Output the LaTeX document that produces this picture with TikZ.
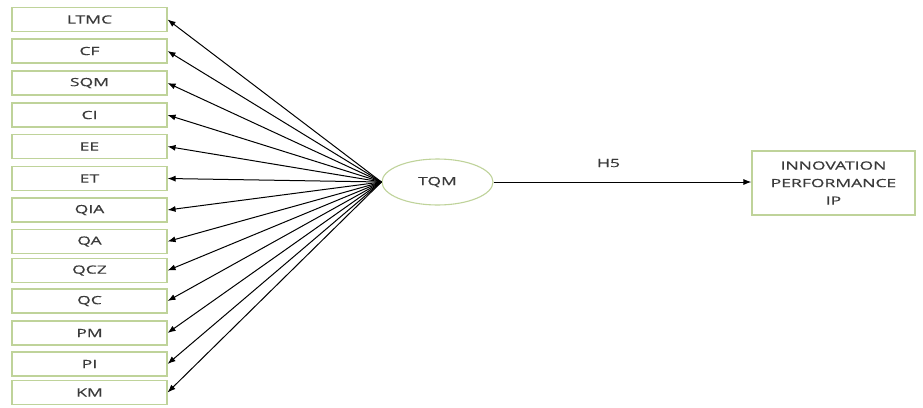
\documentclass[tikz,border=0pt]{standalone}
\usepackage{fontspec}
\newfontfamily\labfont[FakeStretch=1.55,FakeBold=0.5]{Open Sans}
\usetikzlibrary{arrows.meta,shapes.geometric}
\definecolor{boxline}{HTML}{BFD39A}
\definecolor{labtext}{HTML}{3A3A3A}
\tikzset{
  dim/.style={draw=boxline, line width=1.1pt, fill=white, text=labtext,
    font=\labfont\fontsize{11.3}{17.5}\selectfont},
  factor/.style={dim, rectangle, minimum width=155pt, minimum height=24pt, inner sep=0pt},
  construct/.style={dim, ellipse, minimum width=111pt, minimum height=46pt, inner sep=0pt},
  outcome/.style={dim, rectangle, minimum width=163pt, minimum height=64pt, inner sep=0pt, align=center},
  link/.style={draw=black, line width=1pt, -{Latex[length=8pt,width=6pt]}}
}
\begin{document}
\begin{tikzpicture}[x=1pt,y=-1pt]
\useasboundingbox (0,0) rectangle (923,407);
\node[construct] (tqm) at (437.5,182) {TQM};
\node[outcome] (ip) at (833.5,183) {INNOVATION\\PERFORMANCE\\IP};
\foreach \name/\yy in {LTMC/19.5, CF/51, SQM/83, CI/115, EE/146.5, ET/178.5,
    QIA/210, QA/241.5, QCZ/270.5, QC/301, PM/333, PI/364, KM/392.5}{
  \node[factor] (\name) at (89.5,\yy) {\name};
  \draw[link] (tqm.west) -- (\name.east);
}
\draw[link] (tqm.east) -- (ip.west |- tqm.east) node[midway, above=11pt, text=labtext,
  font=\labfont\fontsize{11.3}{12}\selectfont, xshift=-14pt] (h5) {H5};
\end{tikzpicture}
\end{document}
